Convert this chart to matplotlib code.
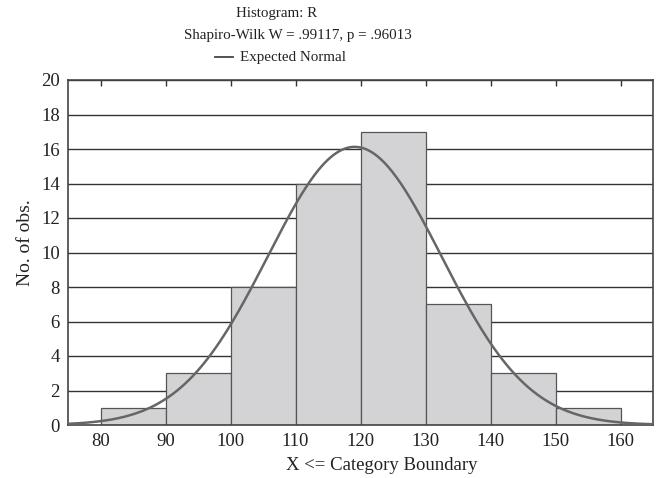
import numpy as np
import matplotlib
matplotlib.use("Agg")
import matplotlib.pyplot as plt
from matplotlib.lines import Line2D

plt.rcParams['font.family'] = ['Liberation Serif', 'DejaVu Serif']

bin_edges = [80, 90, 100, 110, 120, 130, 140, 150, 160]
counts = [1, 3, 8, 14, 17, 7, 3, 1]
fit_mean = 119.1
fit_sd = 13.36
n_obs = sum(counts)
bin_width = 10
x_ticks = [80, 90, 100, 110, 120, 130, 140, 150, 160]
y_ticks = [0, 2, 4, 6, 8, 10, 12, 14, 16, 18, 20]

W, H = 659, 478
fig = plt.figure(figsize=(W / 100, H / 100), dpi=100)
ax = fig.add_axes([68 / W, 1 - 425 / H, (653 - 68) / W, (425 - 80) / H])

for y in y_ticks[1:]:
    ax.axhline(y, color='#333333', lw=1.0, zorder=1)

lefts = bin_edges[:-1]
ax.bar(lefts, counts, width=bin_width, align='edge', color='#d3d3d5',
       edgecolor='#555555', linewidth=0.9, zorder=2)

xs = np.linspace(75, 165, 400)
ys = n_obs * bin_width * np.exp(-0.5 * ((xs - fit_mean) / fit_sd) ** 2) / (fit_sd * np.sqrt(2 * np.pi))
ax.plot(xs, ys, color='#666666', lw=1.8, zorder=3)

ax.set_xlim(75, 165)
ax.set_ylim(0, 20)
ax.set_xticks(x_ticks)
ax.set_yticks(y_ticks)
ax.tick_params(axis='both', labelsize=13.5, length=0, pad=6, colors='#222222')
ax.tick_params(axis='x', top=True, direction='in', length=4, width=1, color='#333333')
ax.tick_params(axis='x', bottom=False)
for s in ax.spines.values():
    s.set_color('#444444')
    s.set_linewidth(1.2)

fig.text(382 / W, 1 - 466 / H, 'X <= Category Boundary', ha='center', va='center',
         fontsize=13.5, color='#222222')
fig.text(25 / W, 1 - 243 / H, 'No. of obs.', rotation=90, ha='center', va='center',
         fontsize=14, color='#222222')

fig.text(277 / W, 1 - 14 / H, 'Histogram: R', ha='center', va='center', fontsize=10.8, color='#222222')
fig.text(298 / W, 1 - 35 / H, 'Shapiro-Wilk W = .99117, p = .96013', ha='center', va='center',
         fontsize=10.8, color='#222222')
fig.add_artist(Line2D([215 / W, 233 / W], [1 - 57 / H, 1 - 57 / H], color='#444444', lw=1.3))
fig.text(240 / W, 1 - 57 / H, 'Expected Normal', ha='left', va='center', fontsize=10.8, color='#222222')

fig.savefig('out.png', dpi=100)
